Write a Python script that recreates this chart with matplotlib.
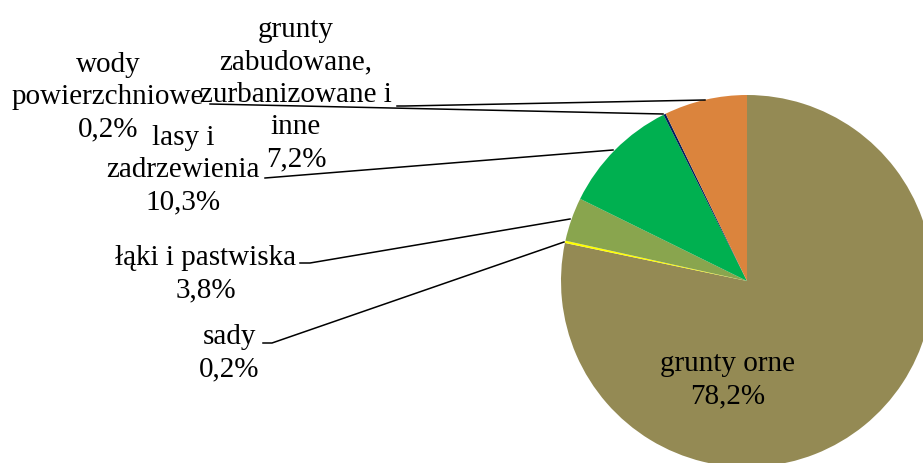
import matplotlib
matplotlib.use("Agg")
import matplotlib.pyplot as plt

# dane: struktura użytkowania gruntów (%)
labels = ["grunty orne", "sady", "łąki i pastwiska", "lasy i\nzadrzewienia",
          "wody\npowierzchniowe", "grunty\nzabudowane,\nzurbanizowane i\ninne"]
values = [78.2, 0.2, 3.8, 10.3, 0.2, 7.2]
colors = ["#948A54", "#FFFF00", "#89A54E", "#00B050", "#002060", "#DB843D"]

W, H = 923, 463

# położenie etykiet (piksele, y od góry) i punkty łamania linii
label_pos = [(728, 380), (229, 353), (206, 274), (183, 170), (108, 97), (296, 95)]
leader = [None,
          [(263, 343), (272, 343), (564, 242)],
          [(300, 263), (310, 263), (570, 219)],
          [(265, 178), (613, 150)],
          [(210, 104), (663, 114)],
          [(397, 106), (405, 106), (705, 100)]]

plt.rcParams["font.family"] = ["Liberation Serif", "DejaVu Serif"]

fig = plt.figure(figsize=(W / 100, H / 100), dpi=100)
ax = fig.add_axes([0, 0, 1, 1])

ax.pie(values, colors=colors, startangle=90, counterclock=False,
       center=(747, H - 281), radius=186, frame=True,
       wedgeprops=dict(linewidth=0))
ax.set_xlim(0, W)
ax.set_ylim(0, H)
ax.set_aspect("equal")
ax.axis("off")

for lab, val, (x, y), pts in zip(labels, values, label_pos, leader):
    txt = f"{lab}\n{val:.1f}%".replace(".", ",")
    ax.text(x, H - y, txt, ha="center", va="center", fontsize=21,
            linespacing=1.32, color="black")
    if pts:
        ax.plot([p[0] for p in pts], [H - p[1] for p in pts], color="black", lw=1.1)

fig.savefig("out.png", dpi=100)
